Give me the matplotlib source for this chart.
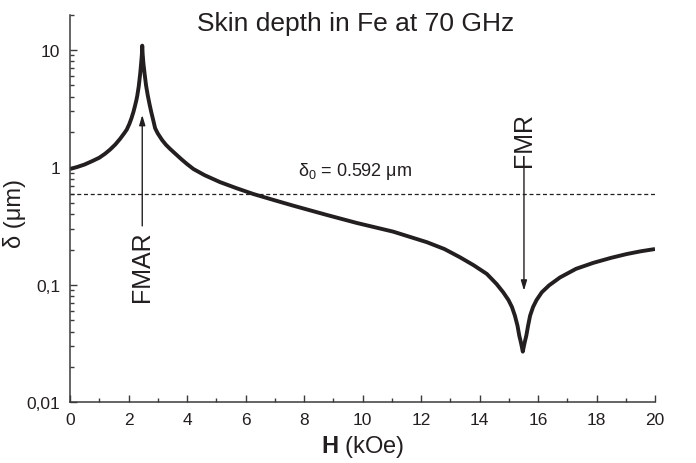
import matplotlib
matplotlib.use("Agg")
import matplotlib.pyplot as plt
from matplotlib.ticker import FixedLocator, FixedFormatter, MultipleLocator, NullFormatter

plt.rcParams['font.family'] = ['Liberation Sans', 'DejaVu Sans']
plt.rcParams['mathtext.fontset'] = 'custom'
plt.rcParams['mathtext.rm'] = 'Liberation Sans'
plt.rcParams['mathtext.bf'] = 'Liberation Sans:bold'
plt.rcParams['mathtext.it'] = 'Liberation Sans:italic'

# ---- data ----
H = [0.0, 0.25, 0.5, 0.75, 1.0, 1.2, 1.37, 1.55, 1.71, 1.85, 1.94, 2.03, 2.10,
     2.17, 2.22, 2.27, 2.30, 2.35, 2.40, 2.43, 2.455, 2.47,
     2.485, 2.51, 2.55, 2.60, 2.66, 2.72, 2.78, 2.85, 2.91, 3.0, 3.15, 3.28,
     3.42, 3.6, 3.8, 4.0, 4.22, 4.6, 5.13, 5.7, 6.27, 7.0, 7.63, 8.2, 8.78,
     9.8, 11.05, 12.2, 12.8, 13.33, 13.8, 14.25, 14.58, 14.81, 14.99, 15.11,
     15.21, 15.30, 15.36, 15.40, 15.44, 15.48, 15.52, 15.56, 15.60, 15.66,
     15.73, 15.83, 15.95, 16.13, 16.38, 16.75, 17.3, 17.89, 18.5, 19.03, 19.5, 20.0]
delta = [0.97, 1.01, 1.06, 1.13, 1.21, 1.31, 1.42, 1.57, 1.75, 1.95, 2.10, 2.35, 2.62,
         2.98, 3.33, 3.75, 4.09, 4.9, 6.3, 7.6, 9.0, 10.9,
         9.2, 7.7, 6.3, 5.0, 4.09, 3.45, 2.95, 2.5, 2.16, 1.95, 1.71, 1.56,
         1.44, 1.31, 1.18, 1.07, 0.97, 0.86, 0.75, 0.665, 0.594, 0.525, 0.473, 0.432, 0.394,
         0.337, 0.284, 0.231, 0.202, 0.172, 0.147, 0.124, 0.102, 0.0865, 0.0743, 0.0647,
         0.0547, 0.0448, 0.0369, 0.0336, 0.0303, 0.027, 0.0303, 0.0336, 0.0369, 0.0448,
         0.0547, 0.0647, 0.0743, 0.0865, 0.0991, 0.1156, 0.137, 0.154, 0.170, 0.183, 0.193, 0.202]
delta0 = 0.592
ytick_vals = [0.01, 0.1, 1, 10]
ytick_labels = ['0,01', '0,1', '1', '10']
xticks = [0, 2, 4, 6, 8, 10, 12, 14, 16, 18, 20]

FMAR_H, FMAR_tail, FMAR_head = 2.47, 0.318, 2.8
FMR_H, FMR_tail, FMR_head = 15.52, 1.01, 0.0893

ink = '#231f20'
spine = '#3a3a3a'

fig = plt.figure(figsize=(6.96, 4.64), dpi=100)
ax = fig.add_axes([70/696, 1-403.3/464, 585/696, (403.3-15.7)/464])

ax.plot(H, delta, color=ink, lw=2.8, solid_joinstyle='round', solid_capstyle='butt')
ax.plot([0, 20], [delta0, delta0], color=ink, lw=0.9, linestyle=(0, (3.2, 2.2)))

ax.set_yscale('log')
ax.set_xlim(0, 20)
ax.set_ylim(0.01, 20)

ax.yaxis.set_major_locator(FixedLocator(ytick_vals))
ax.yaxis.set_major_formatter(FixedFormatter(ytick_labels))
ax.yaxis.set_minor_locator(FixedLocator([m * 10.0**e for e in (-2, -1, 0, 1) for m in range(2, 10) if m * 10.0**e <= 20]))
ax.yaxis.set_minor_formatter(NullFormatter())
ax.xaxis.set_major_locator(FixedLocator(xticks))
ax.xaxis.set_minor_locator(MultipleLocator(1))

for s in ['top', 'right']:
    ax.spines[s].set_visible(False)
for s in ['left', 'bottom']:
    ax.spines[s].set_color(spine)
    ax.spines[s].set_linewidth(1.1)

ax.tick_params(which='major', direction='in', length=5, width=1.0, color=spine,
               labelsize=12.5, labelcolor=ink, pad=7)
ax.tick_params(which='minor', direction='in', length=2.6, width=1.0, color=spine)

ax.set_xlabel(r'$\mathbf{H}$ (kOe)', fontsize=17, color=ink, labelpad=4)
ax.set_ylabel('δ (μm)', fontsize=17, color=ink)
ax.yaxis.set_label_coords(-44/585, 0.49)

fig.text(356/696, 1-31/464, 'Skin depth in Fe at 70 GHz', fontsize=19, color=ink,
         ha='center', va='baseline')

ax.text(7.8, 0.767, 'δ$_0$ = 0.592 μm', fontsize=13, color=ink, ha='left', va='bottom')

arrow = dict(arrowstyle='-|>,head_length=0.6,head_width=0.18', color=ink, lw=1.0,
             shrinkA=0, shrinkB=0)
ax.annotate('', xy=(FMAR_H, FMAR_head), xytext=(FMAR_H, FMAR_tail), arrowprops=arrow)
ax.annotate('', xy=(FMR_H, FMR_head), xytext=(FMR_H, FMR_tail), arrowprops=arrow)

ax.text(FMAR_H, 0.145, 'FMAR', rotation=90, fontsize=18, color=ink, ha='center', va='center')
ax.text(FMR_H, 1.75, 'FMR', rotation=90, fontsize=18, color=ink, ha='center', va='center')

fig.savefig('out.png', dpi=100)
